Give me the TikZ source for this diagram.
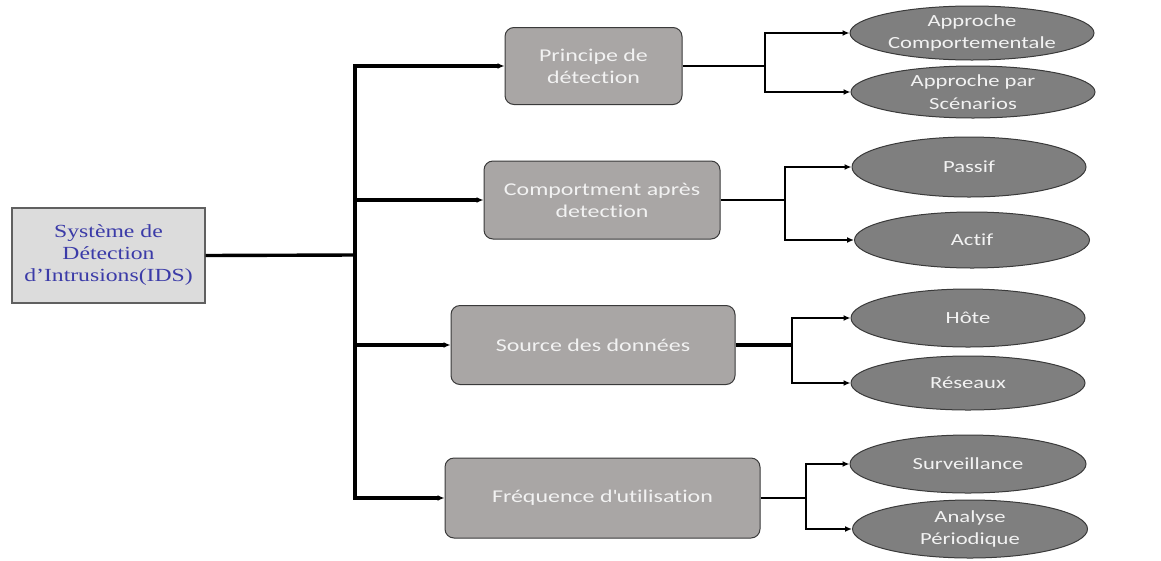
\documentclass[tikz,border=0pt]{standalone}
\usepackage{fontspec}
\setmainfont[FakeStretch=1.33,RawFeature=-liga]{Carlito}
\newfontfamily\serifidsfont[FakeStretch=1.28]{Liberation Serif}
\usetikzlibrary{shapes.geometric,arrows.meta}
\definecolor{idsfill}{HTML}{DCDCDC}
\definecolor{idsborder}{HTML}{606060}
\definecolor{idstext}{HTML}{3B3BA8}
\definecolor{catfill}{HTML}{A9A6A5}
\definecolor{leaffill}{HTML}{7F7F7F}
\definecolor{edgegray}{HTML}{3A3A3A}
\definecolor{lighttext}{HTML}{F2F2F2}
\begin{document}
\begin{tikzpicture}[x=1pt,y=-1pt,
  rootbox/.style={draw=idsborder,line width=1.2pt,fill=idsfill,minimum width=193pt,minimum height=95pt,
    align=center,text=idstext,font=\serifidsfont\fontsize{18.5}{22}\selectfont,inner sep=0pt},
  catbox/.style={draw=edgegray,line width=1pt,fill=catfill,rounded corners=9pt,align=center,
    text=lighttext,font=\fontsize{18}{22}\selectfont,inner sep=0pt},
  leaf/.style={ellipse,draw=edgegray,line width=1pt,fill=leaffill,align=center,
    text=lighttext,font=\fontsize{17}{22.5}\selectfont,inner sep=0pt},
  trunk/.style={line width=3.4pt,black},
  branch/.style={line width=2pt,black},
  tip/.style={-{Latex[length=7pt,width=6pt]}}
]
\useasboundingbox (0,0) rectangle (1161,560);

% root
\node[rootbox] (ids) at (108.5,255.5) {Système de\\Détection\\d’Intrusions(IDS)};

% categories
\node[catbox,minimum width=177pt,minimum height=77pt] (c1) at (593.5,66) {Principe de\\détection};
\node[catbox,minimum width=236pt,minimum height=78pt] (c2) at (602,200) {Comportment après\\detection};
\node[catbox,minimum width=284pt,minimum height=79pt] (c3) at (593,345) {Source des données};
\node[catbox,minimum width=315pt,minimum height=80pt] (c4) at (602.5,498) {Fréquence d\textquotesingle utilisation};

% leaves
\node[leaf,minimum width=244pt,minimum height=54pt] (l1) at (972,33) {Approche\\Comportementale};
\node[leaf,minimum width=244pt,minimum height=52pt] (l2) at (973,92) {Approche par\\Scénarios};
\node[leaf,minimum width=234pt,minimum height=60pt] (l3) at (969,167) {Passif};
\node[leaf,minimum width=235pt,minimum height=56pt] (l4) at (972,240) {Actif};
\node[leaf,minimum width=234pt,minimum height=58pt] (l5) at (968,318) {Hôte};
\node[leaf,minimum width=234pt,minimum height=54pt] (l6) at (968,383) {Réseaux};
\node[leaf,minimum width=236pt,minimum height=58pt] (l7) at (968,464) {Surveillance};
\node[leaf,minimum width=235pt,minimum height=58pt] (l8) at (970,529) {Analyse\\Périodique};

% junction points
\coordinate (t0) at (355,255);
\coordinate (tt) at (355,66);
\coordinate (tb) at (355,498);
\coordinate (j1) at (765,66);
\coordinate (j2) at (785,200);
\coordinate (j3) at (792,345);
\coordinate (j4) at (806,498);

% root to trunk
\draw[trunk] (ids.east) -- (t0);
\draw[trunk,line cap=rect] (tt) -- (tb);
\draw[trunk,tip] (tt) -- (c1.west);
\draw[trunk,tip] (c2.west -| tt) -- (c2.west);
\draw[trunk,tip] (c3.west -| tt) -- (c3.west);
\draw[trunk,tip] (tb) -- (c4.west);

% category to leaves
\draw[branch] (c1.east) -- (j1);
\draw[branch,tip] (j1) |- (l1.west);
\draw[branch,tip] (j1) |- (l2.west);
\draw[branch] (c2.east) -- (j2);
\draw[branch,tip] (j2) |- (l3.west);
\draw[branch,tip] (j2) |- (l4.west);
\draw[trunk] (c3.east) -- (j3);
\draw[branch,tip] (j3) |- (l5.west);
\draw[branch,tip] (j3) |- (l6.west);
\draw[branch,line width=2.6pt] (c4.east) -- (j4);
\draw[branch,tip] (j4) |- (l7.west);
\draw[branch,tip] (j4) |- (l8.west);
\end{tikzpicture}
\end{document}
